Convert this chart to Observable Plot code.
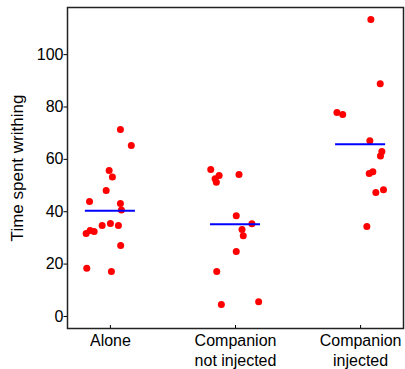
<!DOCTYPE html>
<html>
<head>
<meta charset="utf-8">
<script src="https://cdn.jsdelivr.net/npm/d3@7"></script>
<script src="https://cdn.jsdelivr.net/npm/@observablehq/plot@0.6"></script>
<style>
  html, body { margin: 0; padding: 0; background: white; }
</style>
</head>
<body>
<div id="chart"></div>
<script>
const categories = ["Alone", "Companion\nnot injected", "Companion\ninjected"];
const yTicks = [0, 20, 40, 60, 80, 100];
const yTitle = "Time spent writhing";

const aloneValues = [71.4, 65.3, 55.7, 53.3, 48.1, 43.9, 43.1, 40.7, 34.7, 35.5, 34.7, 32.8, 32.4, 31.7, 27.1, 18.4, 17.2];
const aloneJitter = [0.08, 0.167, -0.01, 0.016, -0.034, -0.167, 0.08, 0.088, -0.066, 0.0, 0.064, -0.162, -0.13, -0.194, 0.082, -0.189, 0.008];

const notInjectedValues = [56.1, 53.8, 52.6, 51.3, 54.2, 38.5, 35.4, 33.2, 30.8, 24.8, 17.2, 4.6, 5.6];
const notInjectedJitter = [-0.198, -0.131, -0.163, -0.153, 0.028, 0.006, 0.131, 0.052, 0.062, 0.006, -0.15, -0.113, 0.185];

const injectedValues = [113.4, 88.9, 77.9, 77.1, 67.1, 63.0, 61.3, 55.3, 54.6, 48.4, 47.3, 34.4];
const injectedJitter = [0.082, 0.157, -0.189, -0.143, 0.074, 0.17, 0.159, 0.098, 0.069, 0.183, 0.122, 0.05];

const groups = [
  {values: aloneValues, jitter: aloneJitter},
  {values: notInjectedValues, jitter: notInjectedJitter},
  {values: injectedValues, jitter: injectedJitter}
];

const points = groups.flatMap((g, i) =>
  g.values.map((v, j) => ({pos: i + 1 + g.jitter[j], value: v}))
);
const means = groups.map((g, i) => ({pos: i + 1, mean: d3.mean(g.values)}));

const chart = Plot.plot({
  width: 405,
  height: 369,
  marginLeft: 67,
  marginRight: 2,
  marginTop: 7,
  marginBottom: 41,
  style: {fontFamily: "'Liberation Sans', Arial, sans-serif", fontSize: "16px", color: "black", background: "white"},
  x: {domain: [0.657, 3.343], label: null},
  y: {domain: [-4.6, 118], label: null},
  marks: [
    Plot.frame({stroke: "#222", strokeWidth: 1.5}),
    Plot.axisY({ticks: yTicks, tickSize: 3.5, tickPadding: 0.5, fontSize: 16, label: null}),
    Plot.axisY({ticks: [], tickSize: 0, fontSize: 17, dy: -4,
      label: yTitle, labelAnchor: "center", labelOffset: 57, labelArrow: "none"}),
    Plot.axisX({ticks: [1, 2, 3], tickSize: 0, tickPadding: 4, fontSize: 16,
      tickFormat: (d) => categories[d - 1], lineHeight: 1.22, label: null}),
    Plot.axisX({ticks: [1, 2, 3], tickSize: 3, dy: -3, tickFormat: () => "", label: null}),
    Plot.dot(points, {x: "pos", y: "value", r: 3.5, fill: "#ff0000", stroke: "none"}),
    Plot.ruleY(means, {x1: (d) => d.pos - 0.2, x2: (d) => d.pos + 0.2, y: "mean", stroke: "#0000ff", strokeWidth: 2})
  ]
});
document.getElementById("chart").appendChild(chart);
</script>
</body>
</html>
